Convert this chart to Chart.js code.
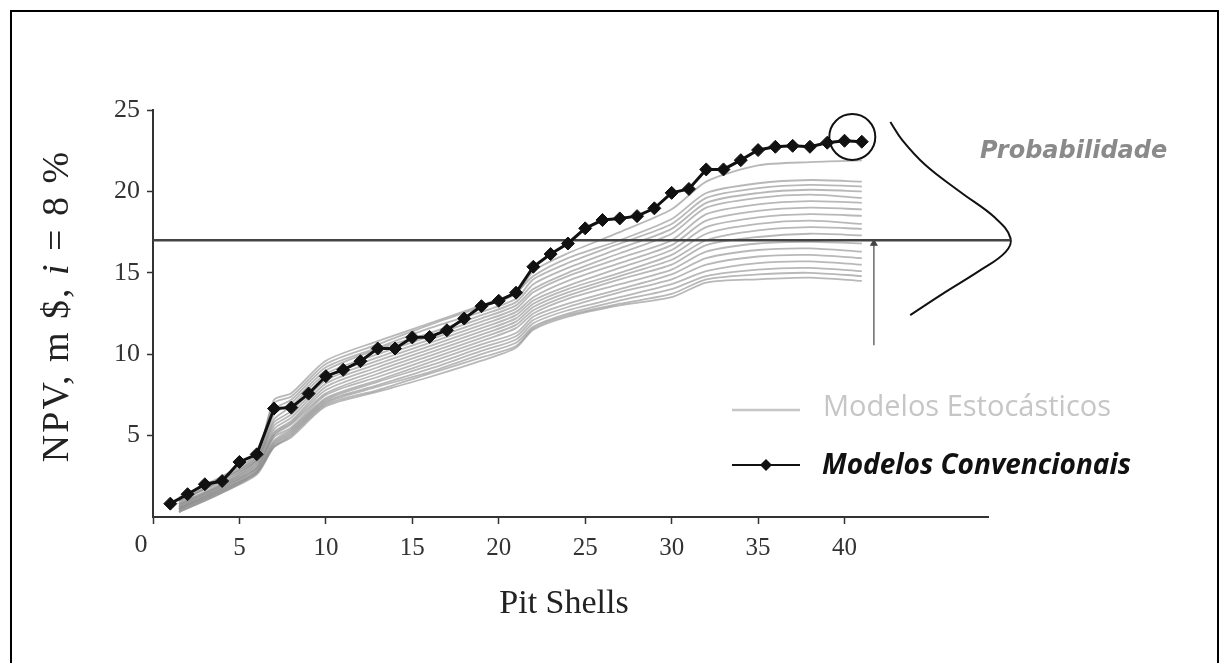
<!DOCTYPE html>
<html><head><meta charset="utf-8">
<script src="https://cdn.jsdelivr.net/npm/chart.js@4.4.1/dist/chart.umd.min.js"></script>
<style>
html,body{margin:0;padding:0;background:#fff;}
#wrap{position:relative;width:1228px;height:663px;overflow:hidden;}
#frame{position:absolute;left:10px;top:10px;width:1205px;height:700px;border:2px solid #000;pointer-events:none;}
canvas{position:absolute;left:0;top:0;}
</style></head><body>
<div id="wrap"><canvas id="c" width="1228" height="663"></canvas><div id="frame"></div></div>
<script>
// ---------- DATA ----------
const shellNumbers = [1,2,3,4,5,6,7,8,9,10,11,12,13,14,15,16,17,18,19,20,21,22,23,24,25,26,27,28,29,30,31,32,33,34,35,36,37,38,39,40,41];
const conventionalNPV = [0.82,1.40,2.01,2.21,3.38,3.85,6.66,6.72,7.58,8.65,9.04,9.57,10.35,10.35,11.03,11.06,11.47,12.19,12.95,13.28,13.78,15.37,16.15,16.80,17.73,18.24,18.34,18.48,18.96,19.91,20.15,21.35,21.35,21.92,22.54,22.74,22.80,22.74,22.99,23.11,23.05];

const stochasticShells = [1.5,4,6,7,8,10,13,16,19,21,22,24,27,30,32,35,38,41];
const stoch01 = [1.2,2.5,3.9,7.0,7.4,9.4,10.6,11.8,12.9,13.7,15.1,16.2,17.5,18.9,20.6,21.6,21.8,21.9];
const stoch02 = [1.1,2.4,3.8,7.2,7.6,9.6,10.8,11.9,13.0,13.8,14.8,15.9,17.0,18.3,19.9,20.5,20.7,20.6];
const stoch03 = [1.0,2.3,3.7,6.6,7.2,9.2,10.4,11.6,12.6,13.4,14.6,15.6,16.8,18.0,19.6,20.2,20.4,20.3];
const stoch04 = [0.9,2.3,3.6,6.3,7.0,9.0,10.3,11.3,12.4,13.2,14.3,15.3,16.5,17.7,19.3,19.9,20.1,20.0];
const stoch05 = [1.0,2.2,3.5,6.0,6.8,8.8,10.0,11.1,12.2,13.0,14.0,15.0,16.2,17.4,19.0,19.6,19.8,19.6];
const stoch06 = [0.8,2.1,3.5,5.8,6.5,8.6,9.8,10.9,12.0,12.8,13.8,14.8,15.9,17.0,18.6,19.2,19.4,19.3];
const stoch07 = [0.8,2.0,3.4,5.6,6.3,8.4,9.6,10.7,11.8,12.6,13.5,14.5,15.6,16.7,18.2,18.8,19.0,18.9];
const stoch08 = [0.7,2.0,3.3,5.4,6.1,8.2,9.4,10.5,11.6,12.4,13.3,14.2,15.3,16.4,17.8,18.4,18.6,18.5];
const stoch09 = [0.7,1.9,3.2,5.2,5.9,8.0,9.2,10.3,11.4,12.2,13.1,14.0,15.0,16.1,17.4,18.0,18.2,18.0];
const stoch10 = [0.6,1.9,3.1,5.1,5.8,7.8,9.0,10.1,11.2,12.0,12.9,13.8,14.8,15.8,17.0,17.6,17.8,17.7];
const stoch11 = [0.6,1.8,3.0,5.0,5.7,7.6,8.8,9.9,11.0,11.8,12.7,13.6,14.6,15.5,16.7,17.2,17.4,17.3];
const stoch12 = [0.5,1.8,3.0,4.9,5.5,7.5,8.6,9.7,10.8,11.6,12.5,13.4,14.3,15.2,16.3,16.8,16.9,16.8];
const stoch13 = [0.5,1.7,2.9,4.7,5.4,7.3,8.4,9.5,10.6,11.3,12.3,13.1,14.0,14.9,15.9,16.4,16.5,16.3];
const stoch14 = [0.5,1.7,2.8,4.6,5.3,7.2,8.3,9.3,10.4,11.1,12.1,12.9,13.8,14.6,15.5,16.0,16.1,15.9];
const stoch15 = [0.4,1.6,2.8,4.5,5.2,7.1,8.1,9.1,10.2,10.9,11.9,12.7,13.5,14.3,15.1,15.6,15.7,15.5];
const stoch16 = [0.4,1.6,2.7,4.4,5.1,7.0,8.0,8.9,10.0,10.7,11.7,12.5,13.3,14.0,14.8,15.2,15.3,15.1];
const stoch17 = [0.3,1.5,2.7,4.3,5.0,6.9,7.8,8.8,9.8,10.5,11.6,12.4,13.1,13.7,14.6,14.9,15.0,14.8];
const stoch18 = [0.3,1.5,2.6,4.3,4.9,6.8,7.7,8.6,9.6,10.4,11.5,12.3,13.0,13.5,14.4,14.6,14.7,14.5];
const stochasticSeries = [stoch01,stoch02,stoch03,stoch04,stoch05,stoch06,stoch07,stoch08,stoch09,stoch10,stoch11,stoch12,stoch13,stoch14,stoch15,stoch16,stoch17,stoch18];

const xTickValues = [0,5,10,15,20,25,30,35,40];
const yTickValues = [5,10,15,20,25];
const thresholdNPV = 17;
const thresholdSpan = [0, 49.6];
const arrowX = [41.7, 41.7];
const arrowY = [10.55, 16.8];
const circleX = [40.45];
const circleY = [23.34];
const curveX = [42.65,43.34,44.68,46.70,48.73,49.60,49.31,47.86,45.83,43.80];
const curveY = [24.26,23.15,21.62,19.96,18.36,17.13,16.27,15.16,13.81,12.40];

const legendLabels = ['Modelos Estocásticos','Modelos Convencionais'];
const annotationLabel = 'Probabilidade';
const xTitle = 'Pit Shells';

// ---------- BUILD ----------
const zip = (xs, ys) => xs.map((v,i)=>({x:v, y:ys[i]}));
const datasets = [];
datasets.push({
  label: legendLabels[1], data: zip(shellNumbers, conventionalNPV), showLine:true,
  borderColor:'#111', borderWidth:3, pointStyle:'rectRot', pointRadius:6.5,
  pointBackgroundColor:'#111', pointBorderColor:'#111', pointBorderWidth:1, order:0, tension:0
});
stochasticSeries.forEach((s,i)=>datasets.push({
  label: legendLabels[0], data: zip(stochasticShells, s), showLine:true,
  borderColor:'rgba(140,140,140,0.62)', borderWidth:1.8, pointRadius:0, order:10, tension:0.25
}));
datasets.push({data: zip(thresholdSpan,[thresholdNPV,thresholdNPV]), showLine:true, borderColor:'#444', borderWidth:2.5, pointRadius:0, clip:false, order:1});
datasets.push({data: zip(arrowX,arrowY), showLine:true, borderColor:'#444', borderWidth:1.2, pointRadius:[0,3.5], pointStyle:'triangle', pointBackgroundColor:'#444', pointBorderColor:'#444', clip:false, order:1});
datasets.push({data: zip(circleX,circleY), showLine:false, pointStyle:'circle', pointRadius:23, borderWidth:2, pointBorderColor:'#111', pointBackgroundColor:'rgba(0,0,0,0)', pointBorderWidth:2, clip:false, order:1});
datasets.push({data: zip(curveX,curveY), showLine:true, borderColor:'#111', borderWidth:2, pointRadius:0, tension:0.4, clip:false, order:1});

const serif = '"Liberation Serif", "DejaVu Serif", serif';

const annot = {
  id:'annot',
  afterDraw(chart){
    const {ctx, scales:{x,y}} = chart;
    ctx.save();
    // origin label
    ctx.fillStyle='#333'; ctx.font='26px '+serif; ctx.textAlign='center'; ctx.textBaseline='middle';
    ctx.fillText('0', x.getPixelForValue(0)-12, 545);
    // x title
    ctx.fillStyle='#222'; ctx.font='34px '+serif;
    ctx.fillText(xTitle, 564, 604);
    // y title with italic i
    ctx.save();
    ctx.translate(58, 306); ctx.rotate(-Math.PI/2);
    try { ctx.letterSpacing = '2px'; } catch(e) {}
    const parts=[['NPV, m $, ',''],['i','italic '],[' = 8 %','']];
    let total=0;
    parts.forEach(p=>{ctx.font=p[1]+'38px '+serif; total+=ctx.measureText(p[0]).width;});
    let cx=-total/2; ctx.textAlign='left';
    parts.forEach(p=>{ctx.font=p[1]+'38px '+serif; ctx.fillText(p[0],cx,0); cx+=ctx.measureText(p[0]).width;});
    ctx.restore();
    // legend
    ctx.textAlign='left'; ctx.textBaseline='middle';
    ctx.strokeStyle='#c6c6c6'; ctx.lineWidth=2.5;
    ctx.beginPath(); ctx.moveTo(732,410); ctx.lineTo(800,410); ctx.stroke();
    ctx.fillStyle='#c6c6c6'; ctx.font='29px "Open Sans", sans-serif';
    ctx.fillText(legendLabels[0], 823, 408);
    ctx.strokeStyle='#111'; ctx.lineWidth=2;
    ctx.beginPath(); ctx.moveTo(732,465); ctx.lineTo(800,465); ctx.stroke();
    ctx.fillStyle='#111';
    ctx.beginPath(); ctx.moveTo(766,459); ctx.lineTo(772,465); ctx.lineTo(766,471); ctx.lineTo(760,465); ctx.closePath(); ctx.fill();
    ctx.font='italic bold 28px "Open Sans", sans-serif';
    ctx.fillText(legendLabels[1], 822, 466);
    // annotation
    ctx.fillStyle='#8a8a8a'; ctx.font='italic bold 24px "DejaVu Sans", sans-serif';
    ctx.fillText(annotationLabel, 980, 152);
    ctx.restore();
  }
};

new Chart(document.getElementById('c'), {
  type:'scatter',
  data:{datasets},
  options:{
    responsive:false, animation:false, events:[],
    layout:{padding:{left:0, top:110, right:240, bottom:96}},
    plugins:{legend:{display:false}, tooltip:{enabled:false}},
    scales:{
      x:{type:'linear', min:0, max:48.3,
        afterBuildTicks:(s)=>{s.ticks = xTickValues.map(v=>({value:v}));},
        afterFit:(s)=>{s.height=50;},
        grid:{drawOnChartArea:false, drawTicks:true, tickLength:7, color:'#333', tickWidth:1.5},
        border:{display:true, color:'#333', width:2},
        ticks:{font:{family:serif, size:25}, color:'#333', padding:9, maxRotation:0, autoSkip:false,
          callback:(v)=> v===0 ? '' : String(v)}
      },
      y:{type:'linear', min:0, max:25,
        afterBuildTicks:(s)=>{s.ticks = yTickValues.map(v=>({value:v}));},
        afterFit:(s)=>{s.width=153;},
        grid:{drawOnChartArea:false, drawTicks:true, tickLength:6, color:'#333', tickWidth:1.5},
        border:{display:true, color:'#333', width:2},
        ticks:{font:{family:serif, size:26}, color:'#333', padding:7, autoSkip:false}
      }
    }
  },
  plugins:[annot]
});
</script>
</body></html>
